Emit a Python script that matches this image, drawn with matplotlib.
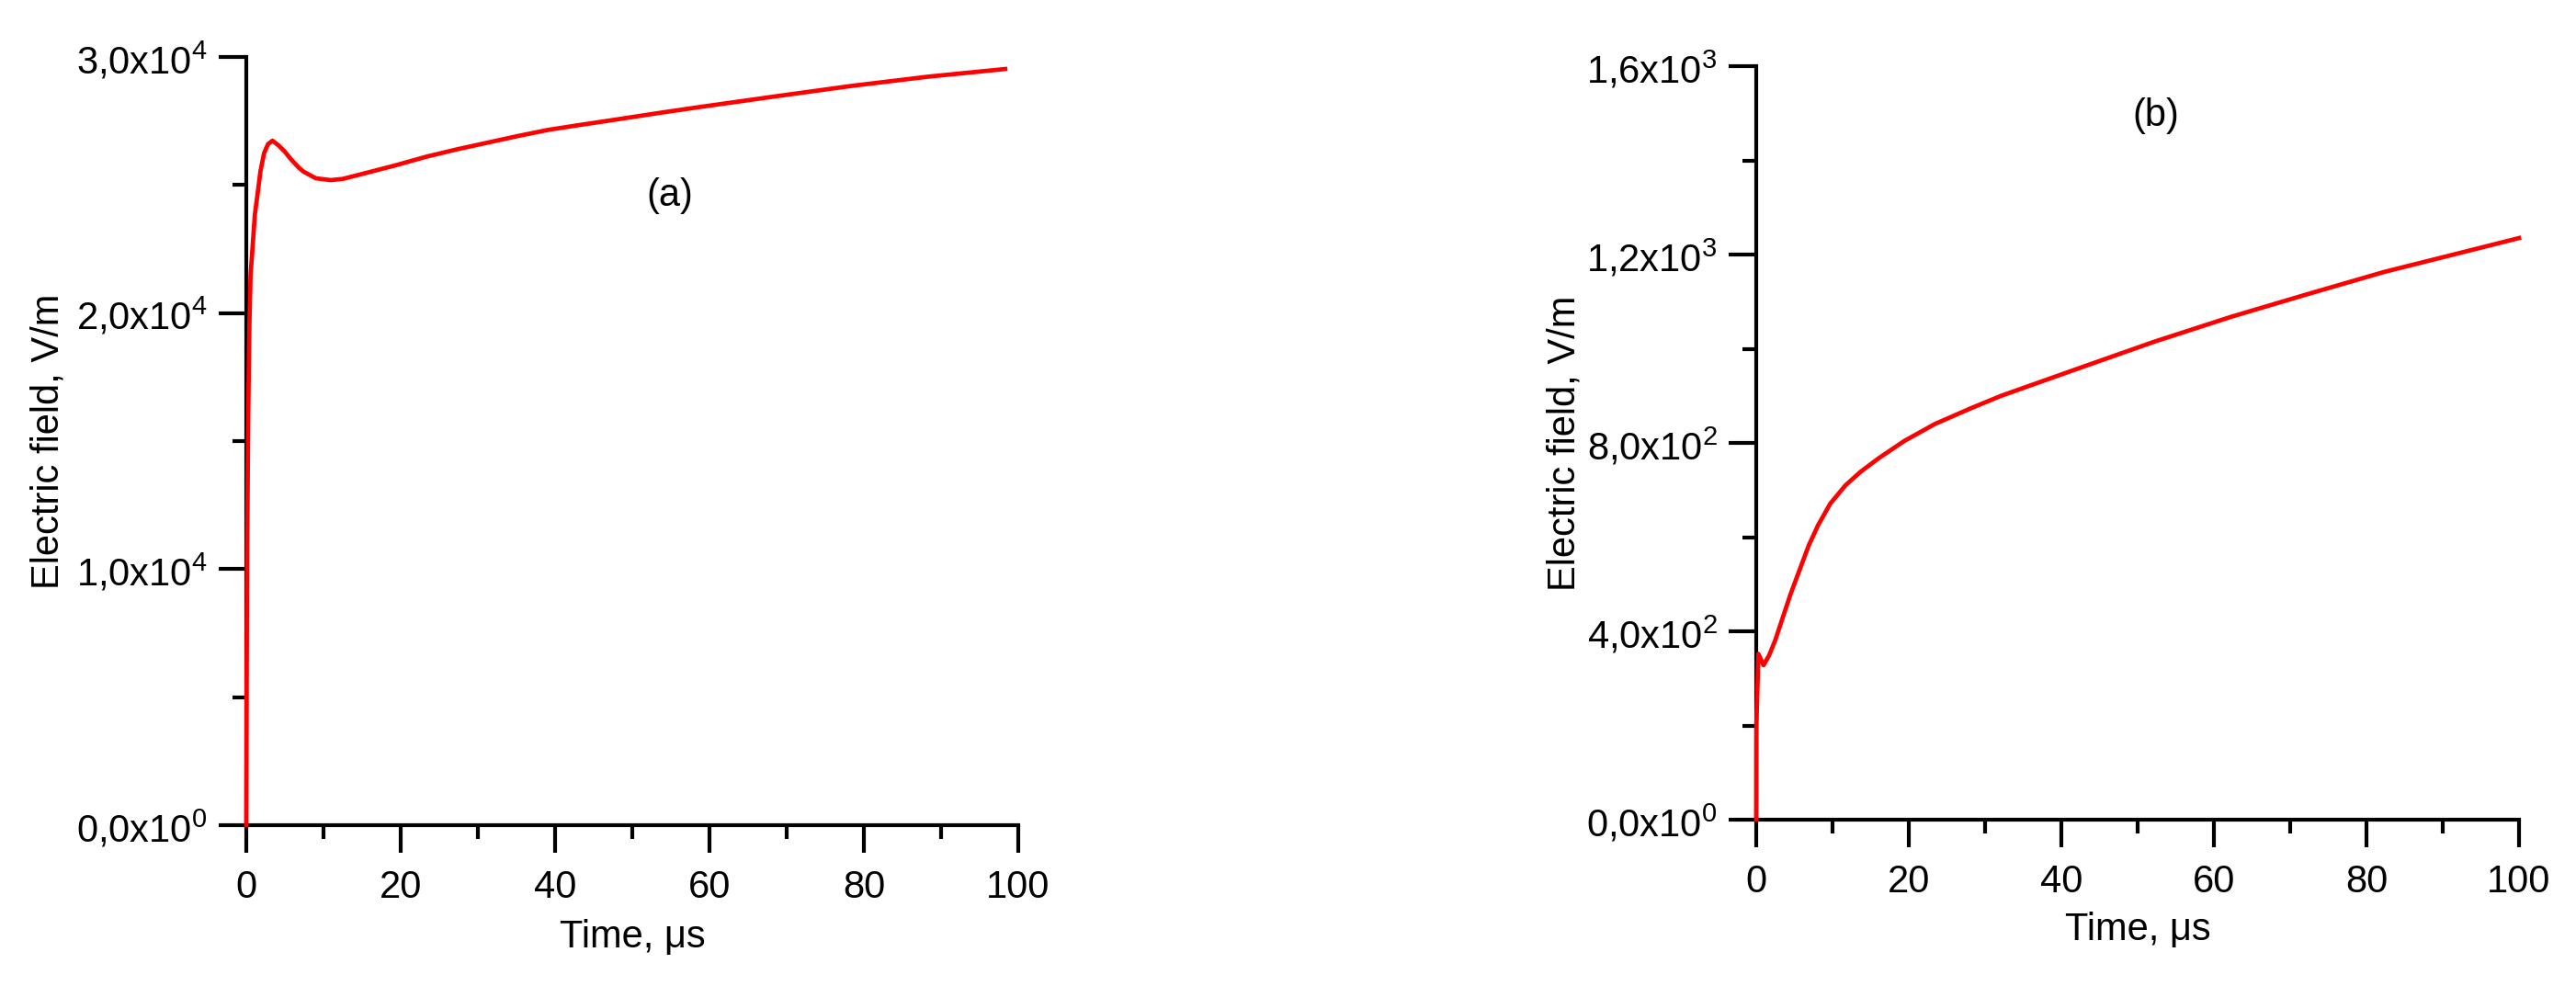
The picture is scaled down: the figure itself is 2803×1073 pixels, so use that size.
import numpy as np
import matplotlib
matplotlib.use('Agg')
from matplotlib import pyplot as plt
from matplotlib.ticker import MultipleLocator, FuncFormatter

plt.rcParams['font.family'] = ['Liberation Sans', 'DejaVu Sans']
plt.rcParams['mathtext.default'] = 'regular'

# panel (a): electric field vs time
time_a = [0, 0.05, 0.12, 0.25, 0.4, 0.55, 0.83, 1.11, 1.43, 1.83, 2.3, 2.82, 3.4, 4.2, 5.0,
          5.8, 6.8, 7.4, 9.0, 10.95, 12.5, 15.3, 19.3, 23.25, 27.2, 31.2, 35.2, 39.1, 43.1,
          47.1, 53.5, 58.6, 68.5, 78.4, 88.3, 98.3]
field_a = [0, 6000, 11000, 16000, 19500, 21460, 22650, 23850, 24580, 25530, 26240, 26600,
           26730, 26540, 26300, 26000, 25680, 25525, 25263, 25191, 25239, 25454, 25766,
           26100, 26387, 26651, 26914, 27153, 27340, 27520, 27815, 28040, 28460, 28870,
           29230, 29530]

# panel (b)
time_b = [0, 0.02, 0.28, 0.96, 1.69, 2.49, 3.29, 4.5, 5.7, 6.9, 8.1, 9.7, 11.7, 13.7,
          16.1, 19.4, 23.4, 28.2, 32.1, 42.2, 52.2, 62.3, 72.3, 82.3, 92.4, 100]
field_b = [0, 200, 352, 328, 349, 381, 420, 479, 531, 583, 625, 671, 710, 739,
           768, 804, 840, 874, 900, 958, 1015, 1068, 1116, 1163, 1204, 1235]

x_label = 'Time, μs'
y_label = 'Electric field, V/m'
FS = 30


def sci_comma(value, pos=None):
    if value == 0:
        return r'0,0x10$^{0}$'
    exp = int(np.floor(np.log10(abs(value)) + 1e-9))
    mant = value / 10 ** exp
    return '{:.1f}'.format(mant).replace('.', ',') + r'x10$^{%d}$' % exp


def style_axis(ax, y_major, y_minor):
    for side in ('top', 'right'):
        ax.spines[side].set_visible(False)
    for side in ('left', 'bottom'):
        ax.spines[side].set_linewidth(3.0)
    ax.xaxis.set_major_locator(MultipleLocator(20))
    ax.xaxis.set_minor_locator(MultipleLocator(10))
    ax.yaxis.set_major_locator(MultipleLocator(y_major))
    ax.yaxis.set_minor_locator(MultipleLocator(y_minor))
    ax.yaxis.set_major_formatter(FuncFormatter(sci_comma))
    ax.tick_params(which='major', direction='out', length=21.5, width=3.0, labelsize=FS)
    ax.tick_params(which='minor', direction='out', length=11, width=3.0)
    ax.tick_params(axis='x', which='major', pad=13)
    ax.tick_params(axis='y', which='major', pad=9)


fig = plt.figure(figsize=(28.03, 10.73), dpi=100)

ax_a = fig.add_axes([268 / 2803, 1 - 898 / 1073, 840 / 2803, 836 / 1073])
ax_a.plot(time_a, field_a, color='#ff0000', lw=3.4, clip_on=False, zorder=5)
ax_a.set_xlim(0, 100)
ax_a.set_ylim(0, 30000)
style_axis(ax_a, 10000, 5000)
ax_a.set_xlabel(x_label, fontsize=FS, va='center')
ax_a.xaxis.set_label_coords(0.5, -0.146)
ax_a.set_ylabel(y_label, fontsize=FS, va='center')
ax_a.yaxis.set_label_coords(-0.257, 0.5)
ax_a.text(54.9, 24580, '(a)', fontsize=FS, ha='center', va='center')

ax_b = fig.add_axes([1911 / 2803, 1 - 892 / 1073, 830 / 2803, 820 / 1073])
ax_b.plot(time_b, field_b, color='#ff0000', lw=3.4, clip_on=False, zorder=5)
ax_b.set_xlim(0, 100)
ax_b.set_ylim(0, 1600)
style_axis(ax_b, 400, 200)
ax_b.set_xlabel(x_label, fontsize=FS, va='center')
ax_b.xaxis.set_label_coords(0.5, -0.146)
ax_b.set_ylabel(y_label, fontsize=FS, va='center')
ax_b.yaxis.set_label_coords(-0.251, 0.5)
ax_b.text(52.4, 1495, '(b)', fontsize=FS, ha='center', va='center')

fig.savefig('out.png', dpi=100)
